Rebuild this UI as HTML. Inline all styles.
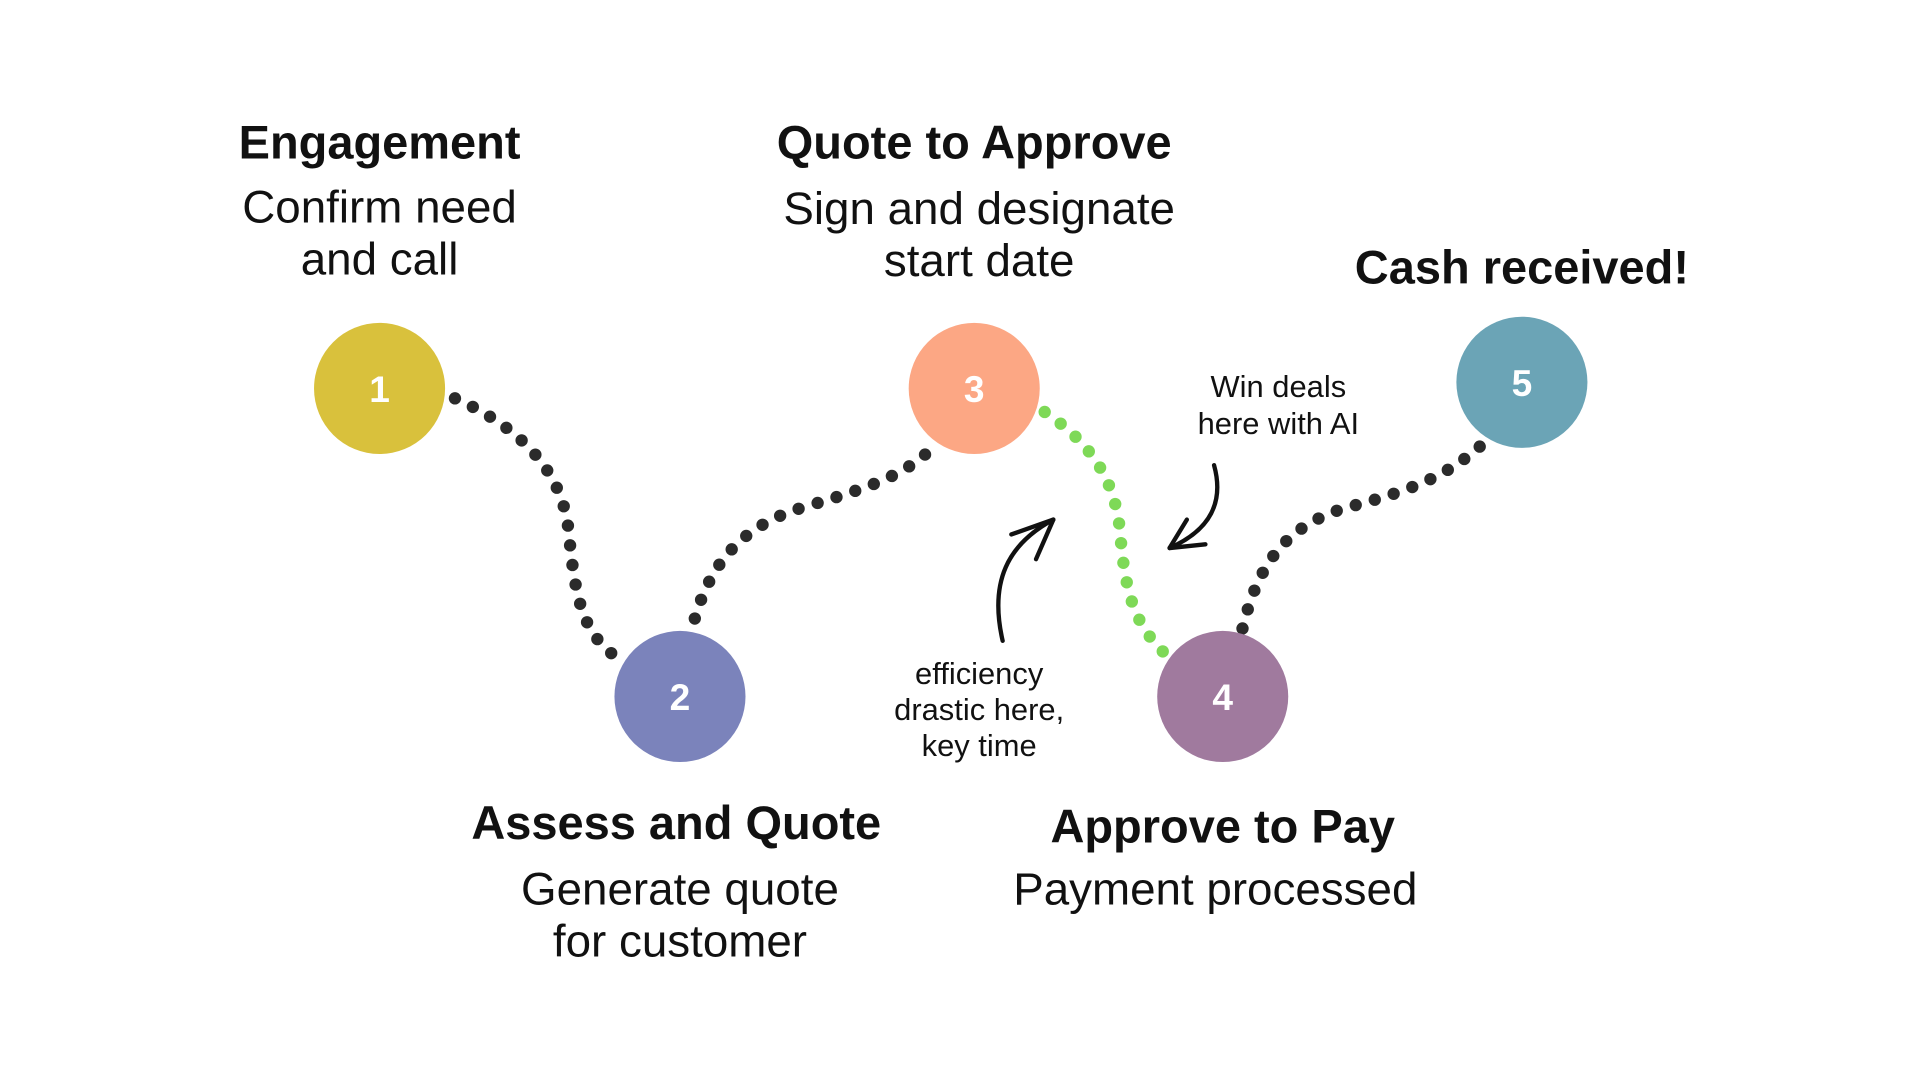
<!DOCTYPE html>
<html><head><meta charset="utf-8"><style>
html,body{margin:0;padding:0;background:#fff;width:1920px;height:1080px;overflow:hidden}
svg{display:block}
text{font-family:"Liberation Sans Narrow","Liberation Sans",sans-serif;text-anchor:middle;fill:#111}
.h{font-weight:bold;font-size:38px}
.b{font-size:37px}
.n{font-size:25px}
.num{font-family:"Liberation Sans",sans-serif;font-weight:bold;font-size:30px;fill:#fff}
</style></head><body>
<svg width="1920" height="1080" viewBox="0 0 1553 873" preserveAspectRatio="none">
<g fill="none" stroke-linecap="round" stroke-width="10" stroke-dasharray="0 16">
<path d="M368 322 C420 345 455 380 460 430 C465 480 470 510 497 530" stroke="#2b2b2b"/>
<path d="M562 500 C575 455 600 425 650 410 C700 395 730 385 752 364" stroke="#2b2b2b"/>
<path d="M845 333 C885 360 902 390 906 430 C910 480 918 505 942 528" stroke="#7ED957"/>
<path d="M1005 508 C1018 455 1040 425 1090 410 C1140 397 1170 385 1198 360" stroke="#2b2b2b"/>
</g>
<circle cx="307" cy="314" r="53" fill="#D9C13C"/>
<circle cx="550" cy="563" r="53" fill="#7B83BB"/>
<circle cx="788" cy="314" r="53" fill="#FCA784"/>
<circle cx="989" cy="563" r="53" fill="#A07A9E"/>
<circle cx="1231" cy="309" r="53" fill="#6BA4B6"/>
<text class="num" x="307" y="325">1</text>
<text class="num" x="550" y="574">2</text>
<text class="num" x="788" y="325">3</text>
<text class="num" x="989" y="574">4</text>
<text class="num" x="1231" y="320">5</text>
<g fill="none" stroke="#111" stroke-width="3.5" stroke-linecap="round">
<path d="M811 518 C800 470 815 440 852 420"/>
<path d="M852 420 L818 432 M852 420 L838 452"/>
<path d="M982 376 C990 405 980 428 946 443"/>
<path d="M946 443 L960 420 M946 443 L975 440"/>
</g>
<text class="h" x="307" y="128">Engagement</text>
<text class="b" x="307" y="180">Confirm need</text>
<text class="b" x="307" y="222">and call</text>
<text class="h" x="788" y="128">Quote to Approve</text>
<text class="b" x="792" y="181">Sign and designate</text>
<text class="b" x="792" y="223">start date</text>
<text class="h" x="1231" y="229">Cash received!</text>
<text class="h" x="547" y="678">Assess and Quote</text>
<text class="b" x="550" y="731">Generate quote</text>
<text class="b" x="550" y="773">for customer</text>
<text class="h" x="989" y="681">Approve to Pay</text>
<text class="b" x="983" y="731">Payment processed</text>
<text class="n" x="1034" y="321">Win deals</text>
<text class="n" x="1034" y="351">here with AI</text>
<text class="n" x="792" y="553">efficiency</text>
<text class="n" x="792" y="582">drastic here,</text>
<text class="n" x="792" y="611">key time</text>
</svg>
</body></html>
